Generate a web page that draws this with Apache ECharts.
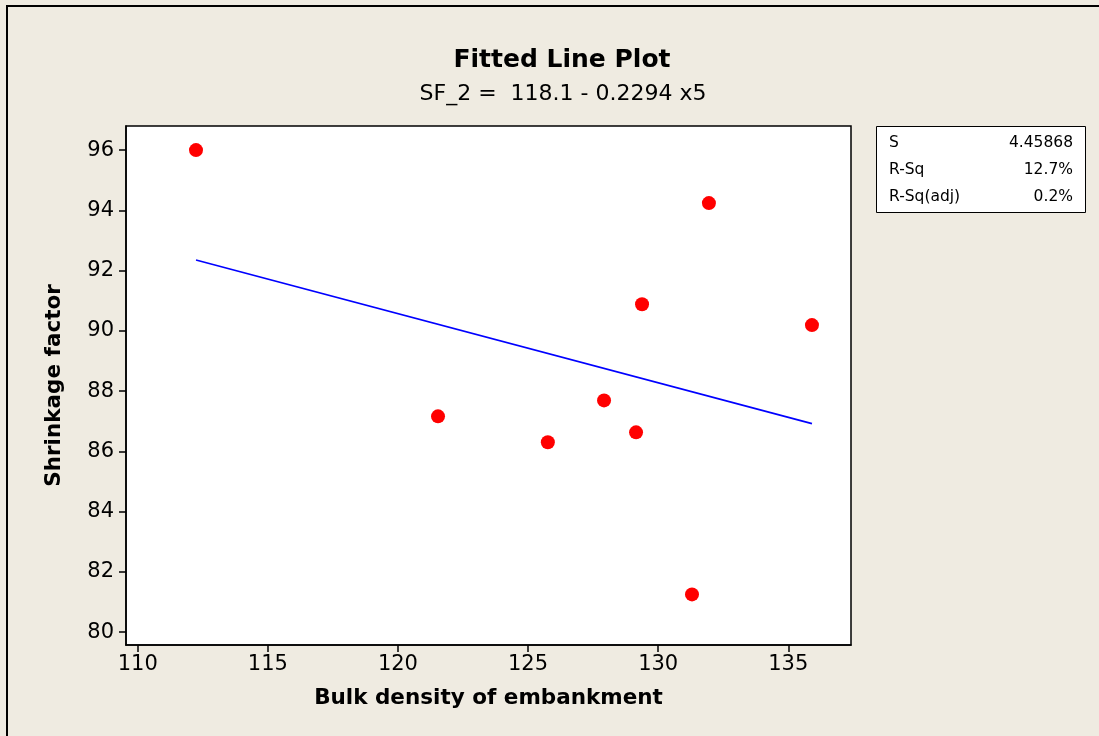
<!DOCTYPE html>
<html>
<head>
<meta charset="utf-8">
<script src="https://cdn.jsdelivr.net/npm/echarts@6/dist/echarts.min.js"></script>
<style>html,body{margin:0;padding:0;background:#EFEBE1;}#c{width:1099px;height:736px;}</style>
</head>
<body>
<div id="c"></div>
<script>
var bulkDensity = [112.24, 121.54, 125.76, 127.92, 129.15, 129.38, 131.95, 131.30, 135.91];
var shrinkage   = [96.0, 87.16, 86.30, 87.69, 86.63, 90.88, 94.24, 81.25, 90.19];
var fitX = [112.24, 135.91];
var fitY = [92.35, 86.92];
var xTicks = [110, 115, 120, 125, 130, 135];
var yTicks = [80, 82, 84, 86, 88, 90, 92, 94, 96];
var statLabels = ['S', 'R-Sq', 'R-Sq(adj)'];
var statValues = ['4.45868', '12.7%', '0.2%'];

var FONT = 'DejaVu Sans';
var chart = echarts.init(document.getElementById('c'), null, {renderer: 'canvas'});

var graphics = [
  {type: 'rect', shape: {x: 7, y: 6, width: 1200, height: 800}, style: {fill: 'none', stroke: '#000', lineWidth: 2}, silent: true},
  {type: 'rect', shape: {x: 876.5, y: 126.5, width: 209, height: 86}, style: {fill: '#fff', stroke: '#000', lineWidth: 1}, silent: true}
];
for (var i = 0; i < statLabels.length; i++) {
  graphics.push({type: 'text', x: 889, y: 143 + i * 27, style: {text: statLabels[i], font: '15.5px ' + FONT, fill: '#000', textAlign: 'left', textVerticalAlign: 'middle'}});
  graphics.push({type: 'text', x: 1073, y: 143 + i * 27, style: {text: statValues[i], font: '15.5px ' + FONT, fill: '#000', textAlign: 'right', textVerticalAlign: 'middle'}});
}

var option = {
  backgroundColor: '#EFEBE1',
  animation: false,
  title: [
    {text: 'Fitted Line Plot', left: 557, top: 43, textAlign: 'center',
     textStyle: {fontFamily: FONT, fontWeight: 'bold', fontSize: 25, color: '#000'}},
    {text: 'SF_2 =  118.1 - 0.2294 x5', left: 558, top: 78, textAlign: 'center',
     textStyle: {fontFamily: FONT, fontWeight: 'normal', fontSize: 22, color: '#000'}}
  ],
  grid: {left: 126, right: 248, top: 126, bottom: 91, show: true, backgroundColor: '#fff', borderColor: '#000', borderWidth: 1.5},
  xAxis: {
    type: 'value', min: 109.55, max: 137.41,
    name: 'Bulk density of embankment', nameLocation: 'middle', nameGap: 42,
    nameTextStyle: {fontFamily: FONT, fontWeight: 'bold', fontSize: 21.5, color: '#000'},
    axisLine: {show: true, lineStyle: {color: '#000', width: 1.5}},
    axisTick: {show: true, length: 7, customValues: xTicks, lineStyle: {color: '#000', width: 1.5}},
    axisLabel: {customValues: xTicks, fontFamily: FONT, fontSize: 21, color: '#000', margin: 9},
    splitLine: {show: false}
  },
  yAxis: {
    type: 'value', min: 79.57, max: 96.8,
    name: 'Shrinkage factor', nameLocation: 'middle', nameGap: 61,
    nameTextStyle: {fontFamily: FONT, fontWeight: 'bold', fontSize: 21.5, color: '#000'},
    axisLine: {show: true, lineStyle: {color: '#000', width: 1.5}},
    axisTick: {show: true, length: 7, customValues: yTicks, lineStyle: {color: '#000', width: 1.5}},
    axisLabel: {customValues: yTicks, fontFamily: FONT, fontSize: 21, color: '#000', margin: 12},
    splitLine: {show: false}
  },
  series: [
    {type: 'line', data: fitX.map(function (x, i) { return [x, fitY[i]]; }), showSymbol: false,
     lineStyle: {color: '#0000ff', width: 1.6}, z: 2},
    {type: 'scatter', data: bulkDensity.map(function (x, i) { return [x, shrinkage[i]]; }),
     symbol: 'circle', symbolSize: 14, itemStyle: {color: '#ff0000', opacity: 1}, z: 3}
  ],
  graphic: graphics
};
chart.setOption(option);
</script>
</body>
</html>
